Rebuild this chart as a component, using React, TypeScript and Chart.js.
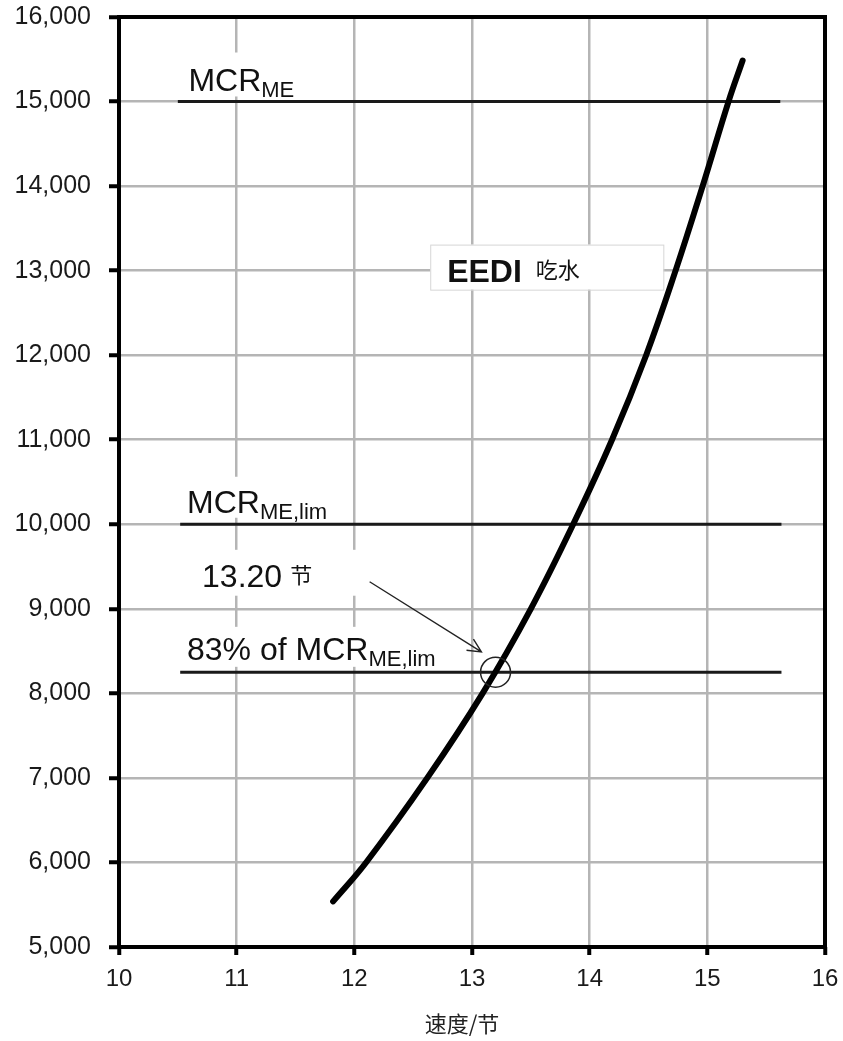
import React, { useEffect, useRef } from "react";
import { Chart, registerables } from "chart.js";

Chart.register(...registerables);

// ---- data ----
const speedKnots = [11.82, 12.1, 12.62, 13.09, 13.5, 13.86, 14.19, 14.48, 14.73, 14.96, 15.18, 15.3];
const powerKw = [5540, 6000, 7000, 8000, 9000, 10000, 11000, 12000, 13000, 14000, 15000, 15485];
const xTickValues = [10, 11, 12, 13, 14, 15, 16];
const yTickValues = [5000, 6000, 7000, 8000, 9000, 10000, 11000, 12000, 13000, 14000, 15000, 16000];
const refLevels = [15000, 10000, 8250]; // MCR_ME, MCR_ME,lim, 83% of MCR_ME,lim
const refLineStart = [10.5, 10.52, 10.52];
const refLineEnd = [15.62, 15.63, 15.63];
const refSpeed = 13.2;
const xTitle = "速度/节";

const LATIN = '"Liberation Sans", Arial, sans-serif';
const CJK = '"Noto Sans CJK SC", sans-serif';

const annotations = {
  id: "annotations",
  beforeDatasetsDraw(chart: any) {
    const { ctx } = chart;
    const xs = chart.scales.x;
    const ys = chart.scales.y;
    const box = (x0: number, x1: number, y0: number, y1: number, border: boolean) => {
      const px0 = xs.getPixelForValue(x0);
      const px1 = xs.getPixelForValue(x1);
      const py0 = ys.getPixelForValue(y0);
      const py1 = ys.getPixelForValue(y1);
      ctx.save();
      ctx.fillStyle = "#ffffff";
      ctx.fillRect(px0, py0, px1 - px0, py1 - py0);
      if (border) {
        ctx.strokeStyle = "#d6d6d6";
        ctx.lineWidth = 1;
        ctx.strokeRect(px0 + 0.5, py0 + 0.5, px1 - px0, py1 - py0);
      }
      ctx.restore();
    };
    box(10.5, 11.54, 15580, 15060, false);
    box(10.52, 11.92, 10562, 10077, false);
    box(10.6, 12.09, 9698, 9155, false);
    box(10.52, 12.94, 8787, 8314, false);
    box(12.645, 14.626, 13308, 12775, true);
  },
  afterDatasetsDraw(chart: any) {
    const { ctx, chartArea } = chart;
    const xs = chart.scales.x;
    const ys = chart.scales.y;
    const P = (x: number, y: number) => [xs.getPixelForValue(x), ys.getPixelForValue(y)];

    ctx.save();
    ctx.fillStyle = "#111";
    ctx.textBaseline = "alphabetic";
    ctx.textAlign = "left";

    const subLabel = (x: number, y: number, main: string, sub: string) => {
      const [px, py] = P(x, y);
      ctx.font = `32px ${LATIN}`;
      ctx.fillText(main, px, py);
      const w = ctx.measureText(main).width;
      ctx.font = `22px ${LATIN}`;
      ctx.fillText(sub, px + w, py + 6);
    };
    subLabel(10.59, 15130, "MCR", "ME");
    subLabel(10.578, 10136, "MCR", "ME,lim");
    subLabel(10.578, 8396, "83% of MCR", "ME,lim");

    // 13.20 节
    {
      const [px, py] = P(10.706, 9260);
      ctx.font = `32px ${LATIN}`;
      ctx.fillText("13.20", px, py);
      const w = ctx.measureText("13.20").width;
      ctx.font = `22px ${CJK}`;
      ctx.fillText("节", px + w + 8, py - 4);
    }
    // EEDI 吃水
    {
      const [px, py] = P(12.789, 12870);
      ctx.font = `bold 32px ${LATIN}`;
      ctx.fillText("EEDI", px, py);
      const w = ctx.measureText("EEDI").width;
      ctx.font = `22px ${CJK}`;
      ctx.fillText("吃水", px + w + 14, py - 4);
    }

    // circle at reference point
    {
      const [cx, cy] = P(refSpeed, refLevels[2]);
      ctx.beginPath();
      ctx.strokeStyle = "#222";
      ctx.lineWidth = 1.5;
      ctx.arc(cx, cy, 15, 0, Math.PI * 2);
      ctx.stroke();
    }
    // arrow
    {
      const [x1, y1] = P(12.13, 9320);
      const [x2, y2] = P(13.08, 8491);
      ctx.strokeStyle = "#222";
      ctx.lineWidth = 1.4;
      ctx.beginPath();
      ctx.moveTo(x1, y1);
      ctx.lineTo(x2, y2);
      const ang = Math.atan2(y2 - y1, x2 - x1);
      const L = 15;
      ctx.moveTo(x2 - L * Math.cos(ang - 0.45), y2 - L * Math.sin(ang - 0.45));
      ctx.lineTo(x2, y2);
      ctx.lineTo(x2 - L * Math.cos(ang + 0.45), y2 - L * Math.sin(ang + 0.45));
      ctx.stroke();
    }

    // frame
    ctx.strokeStyle = "#000";
    ctx.lineWidth = 4;
    ctx.strokeRect(chartArea.left, chartArea.top, chartArea.right - chartArea.left, chartArea.bottom - chartArea.top);

    // x axis title
    ctx.font = `22px ${CJK}`;
    ctx.fillStyle = "#222";
    ctx.textAlign = "center";
    ctx.textBaseline = "middle";
    ctx.fillText(xTitle, 462, 1024);
    ctx.restore();
  },
};

export default function App() {
  const ref = useRef<HTMLCanvasElement | null>(null);
  useEffect(() => {
    if (!ref.current) return;
    const curve = speedKnots.map((s, i) => ({ x: s, y: powerKw[i] }));
    const refDatasets = refLevels.map((lvl, i) => ({
      data: [
        { x: refLineStart[i], y: lvl },
        { x: refLineEnd[i], y: lvl },
      ],
      borderColor: "#1a1a1a",
      borderWidth: 3,
      pointRadius: 0,
      showLine: true,
      order: 2,
    }));
    const chart = new Chart(ref.current, {
      type: "scatter",
      data: {
        datasets: [
          ...refDatasets,
          {
            data: curve,
            borderColor: "#000",
            borderWidth: 6,
            borderCapStyle: "round",
            pointRadius: 0,
            showLine: true,
            tension: 0.4,
            order: 1,
          } as any,
        ],
      },
      options: {
        responsive: false,
        animation: false,
        devicePixelRatio: 1,
        layout: { padding: { top: 17, right: 18, left: 0, bottom: 0 } },
        plugins: { legend: { display: false }, tooltip: { enabled: false } },
        scales: {
          x: {
            type: "linear",
            min: 10,
            max: 16,
            afterFit: (s: any) => {
              s.height = 94;
              s.paddingLeft = 0;
              s.paddingRight = 0;
            },
            afterBuildTicks: (s: any) => {
              s.ticks = xTickValues.map((v) => ({ value: v }));
            },
            border: { display: false },
            grid: { color: "#b5b5b5", lineWidth: 2.5, tickColor: "#000", tickWidth: 4, tickLength: 8 },
            ticks: {
              autoSkip: false,
              maxRotation: 0,
              padding: 10,
              color: "#1a1a1a",
              font: { family: LATIN, size: 24 },
              callback: (v: any) => String(v),
            },
          },
          y: {
            type: "linear",
            min: 5000,
            max: 16000,
            afterFit: (s: any) => {
              s.width = 119;
              s.paddingTop = 0;
              s.paddingBottom = 0;
            },
            afterBuildTicks: (s: any) => {
              s.ticks = yTickValues.map((v) => ({ value: v }));
            },
            border: { display: false },
            grid: { color: "#b5b5b5", lineWidth: 2.5, tickColor: "#000", tickWidth: 4, tickLength: 10 },
            ticks: {
              autoSkip: false,
              padding: 18,
              color: "#1a1a1a",
              font: { family: LATIN, size: 25 },
              callback: (v: any) => Number(v).toLocaleString("en-US"),
            },
          },
        },
      },
      plugins: [annotations],
    });
    return () => chart.destroy();
  }, []);
  return (
    <div style={{ position: "absolute", left: 0, top: 0, width: 843, height: 1041, background: "#fff" }}>
      <canvas ref={ref} width={843} height={1041} />
    </div>
  );
}
